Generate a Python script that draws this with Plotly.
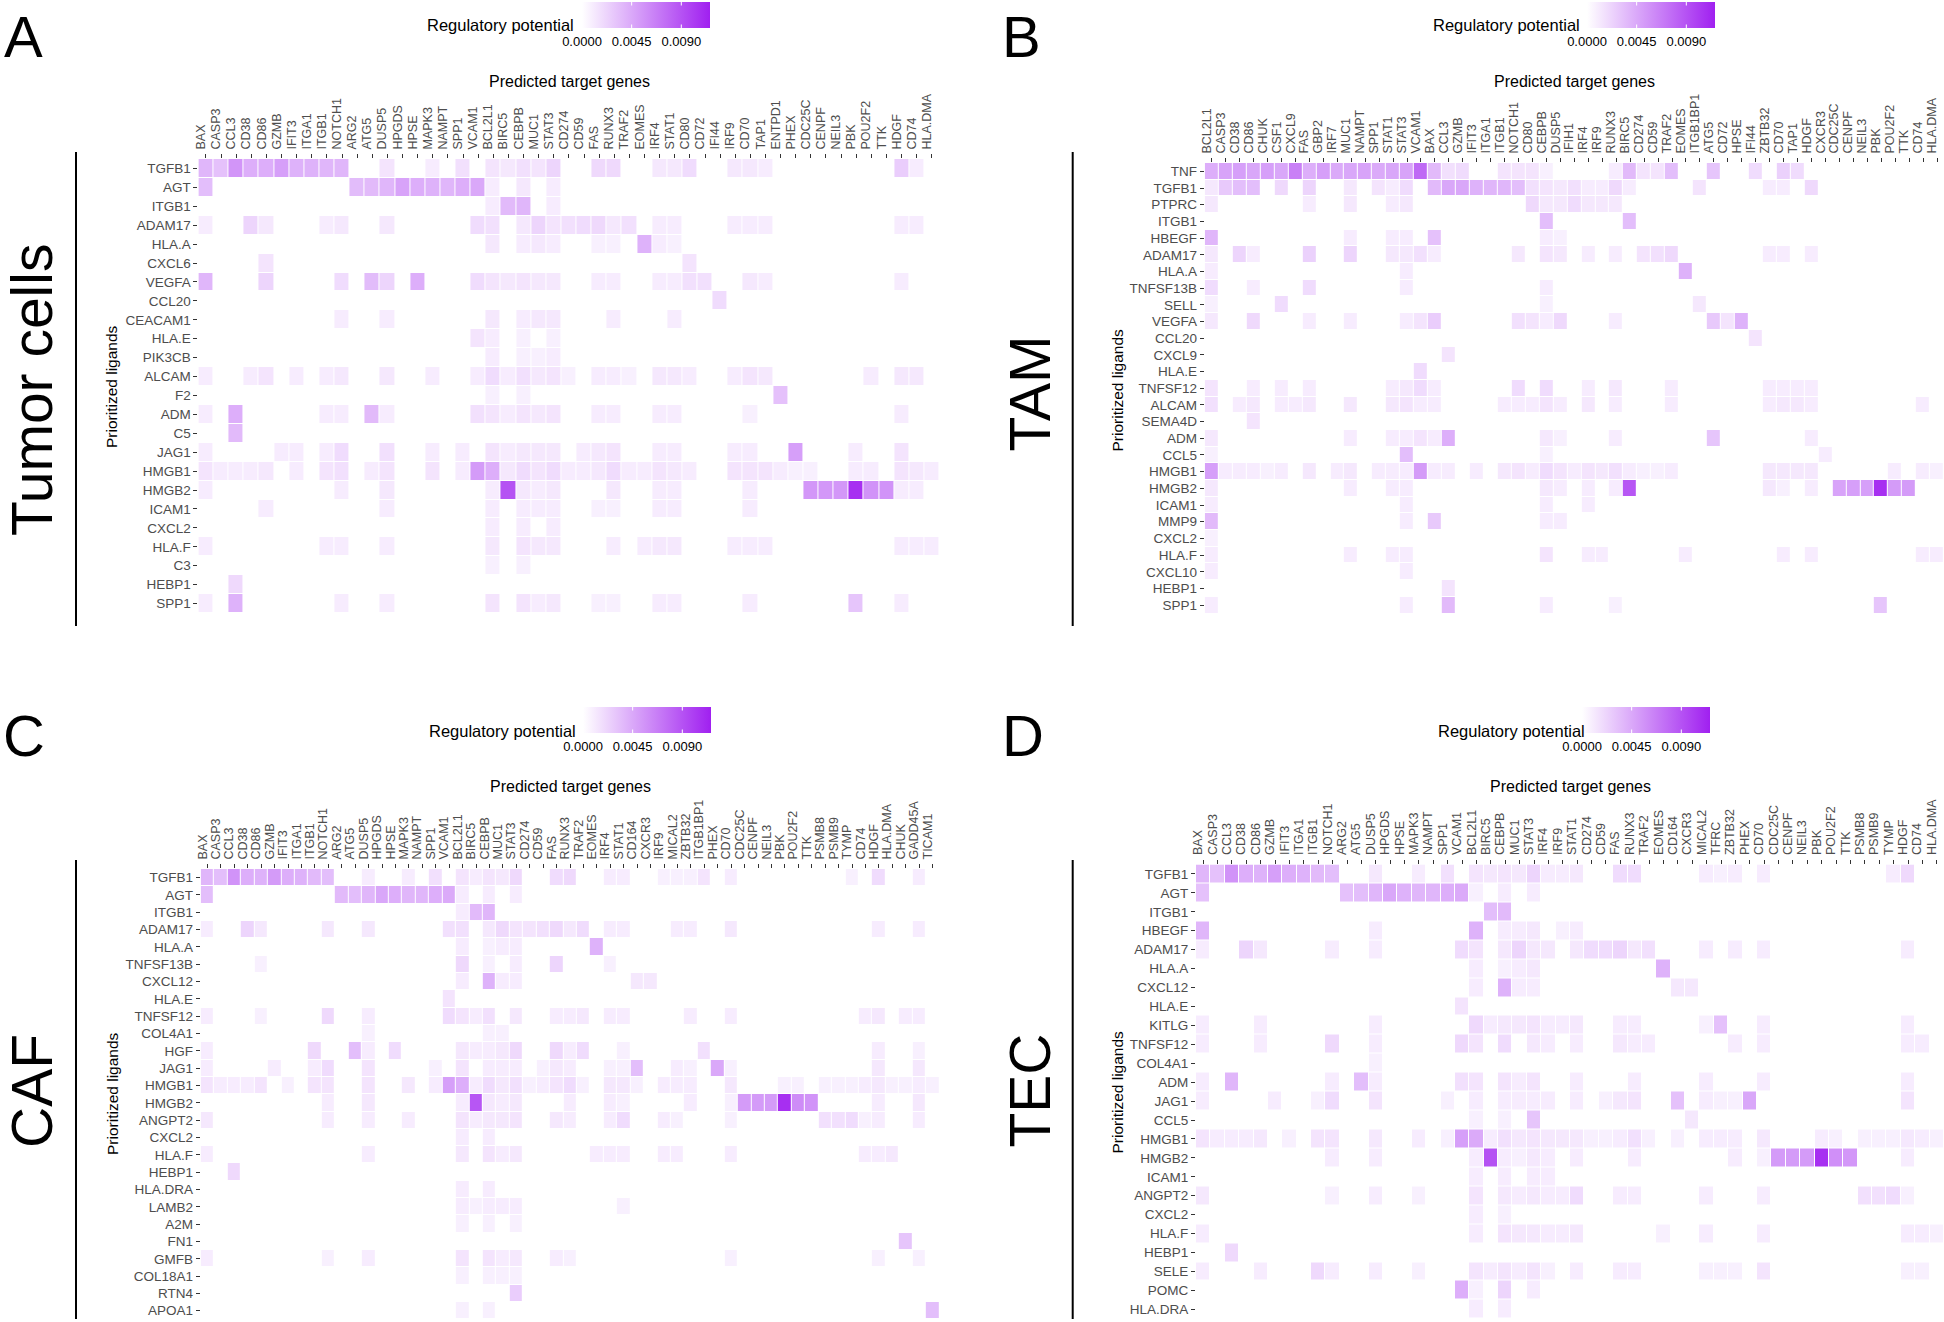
import plotly.graph_objects as go

W, H = 1944, 1322
ZMAX = 0.0116
UNIT = 1e-4  # cell values below are in units of 0.0001
CB_TICKS = [0, 0.0045, 0.009]
CB_LABELS = ["0.0000", "0.0045", "0.0090"]

A_genes = ["BAX","CASP3","CCL3","CD38","CD86","GZMB","IFIT3","ITGA1","ITGB1","NOTCH1","ARG2","ATG5","DUSP5","HPGDS","HPSE","MAPK3","NAMPT","SPP1","VCAM1","BCL2L1","BIRC5","CEBPB","MUC1","STAT3","CD274","CD59","FAS","RUNX3","TRAF2","EOMES","IRF4","STAT1","CD80","CD72","IFI44","IRF9","CD70","TAP1","ENTPD1","PHEX","CDC25C","CENPF","NEIL3","PBK","POU2F2","TTK","HDGF","CD74","HLA.DMA"]
A_rows = {
"TGFB1":{0:38,1:32,2:55,3:42,4:42,5:50,6:40,7:40,8:38,9:38,12:14,15:10,17:16,19:14,20:12,21:16,22:14,23:22,26:20,27:20,30:12,31:12,32:18,35:12,36:12,37:10,46:26,47:10},
"AGT":{0:34,10:35,11:36,12:38,13:48,14:42,15:40,16:38,17:42,18:45,19:10,21:12,23:10},
"ITGB1":{19:10,20:36,21:38,23:10},
"ADAM17":{0:10,3:22,4:12,8:10,9:12,12:12,18:18,19:16,21:12,22:22,23:14,24:16,25:18,26:20,27:12,28:16,30:10,31:10,35:10,36:10,37:10,46:10,47:10},
"HLA.A":{19:12,21:10,22:12,23:10,26:8,27:8,29:40,30:10,31:8},
"CXCL6":{4:14,32:14},
"VEGFA":{0:38,4:22,9:18,11:35,12:22,14:42,18:18,19:14,20:12,21:14,22:12,23:12,26:10,27:10,30:10,31:10,32:16,33:16,36:12,37:10,46:10},
"CCL20":{34:18},
"CEACAM1":{9:10,12:10,19:12,21:10,22:12,23:12,27:10,31:10},
"HLA.E":{18:14,19:10,21:8,23:8},
"PIK3CB":{19:10,21:8,22:8,23:10},
"ALCAM":{0:10,3:10,4:14,6:10,8:10,9:12,12:12,15:10,18:10,19:18,20:10,21:16,22:12,23:14,24:8,26:10,27:10,28:8,30:12,31:12,32:10,35:10,36:14,37:12,44:10,46:12,47:12},
"F2":{19:8,21:8,38:32},
"ADM":{0:10,2:42,8:10,9:10,11:36,12:10,18:16,19:14,20:10,21:14,22:12,23:14,26:10,27:10,30:10,31:10,36:8,46:10},
"C5":{2:36},
"JAG1":{0:10,5:10,6:10,8:10,9:18,12:16,15:10,17:10,19:14,20:10,21:12,22:12,23:12,25:10,26:12,27:14,30:10,31:10,35:10,36:10,39:50,43:10,46:14},
"HMGB1":{0:14,1:10,2:10,3:10,4:12,6:10,8:14,9:16,11:10,12:14,15:14,17:10,18:52,19:42,20:12,21:18,22:14,23:18,24:10,25:10,26:12,27:18,28:10,29:10,30:14,31:12,32:10,35:14,36:14,37:14,38:10,39:8,40:8,43:10,44:10,46:14,47:12,48:10},
"HMGB2":{0:10,9:10,12:12,19:10,20:90,21:12,22:10,23:12,27:12,30:10,31:10,36:10,40:54,41:54,42:54,43:108,44:56,45:56,46:10,47:10},
"ICAM1":{4:10,12:10,19:10,21:10,22:10,23:10,26:8,27:8,30:10,31:10,36:10},
"CXCL2":{19:10,21:10,23:10},
"HLA.F":{0:10,8:10,9:10,12:10,19:12,21:14,22:12,23:12,27:10,29:10,30:12,31:12,35:10,36:10,37:10,46:10,47:10,48:10},
"C3":{19:8,21:8},
"HEBP1":{2:20},
"SPP1":{0:10,2:40,9:10,12:10,19:14,21:14,22:10,23:12,26:8,27:8,30:10,31:10,36:10,43:30,46:10},
}

B_genes = ["BCL2L1","CASP3","CD38","CD86","CHUK","CSF1","CXCL9","FAS","GBP2","IRF7","MUC1","NAMPT","SPP1","STAT1","STAT3","VCAM1","BAX","CCL3","GZMB","IFIT3","ITGA1","ITGB1","NOTCH1","CD80","CEBPB","DUSP5","IFIH1","IRF4","IRF9","RUNX3","BIRC5","CD274","CD59","TRAF2","EOMES","ITGB1BP1","ATG5","CD72","HPSE","IFI44","ZBTB32","CD70","TAP1","HDGF","CXCR3","CDC25C","CENPF","NEIL3","PBK","POU2F2","TTK","CD74","HLA.DMA"]
B_rows = {
"TNF":{0:42,1:48,2:50,3:46,4:50,5:46,6:66,7:42,8:50,9:44,10:46,11:48,12:44,13:46,14:48,15:78,16:36,17:16,18:18,21:14,22:14,23:14,24:8,29:10,30:36,31:14,32:14,33:34,36:30,39:18,41:24,42:18},
"TGFB1":{0:12,1:28,2:34,3:34,5:20,7:22,10:12,12:14,13:10,14:18,16:36,17:46,18:46,19:40,20:38,21:38,22:34,23:16,24:14,25:12,26:16,27:10,28:10,29:20,30:10,35:14,40:10,41:10,43:20},
"PTPRC":{0:12,7:10,10:12,13:10,14:12,23:20,24:12,25:12,26:18,27:12,28:12,29:12},
"ITGB1":{24:34,30:34},
"HBEGF":{0:38,10:10,13:10,14:10,16:32,24:10,25:8},
"ADAM17":{0:12,2:22,3:10,7:24,10:22,13:12,14:12,15:16,16:10,22:12,24:14,25:12,27:10,29:10,31:14,32:16,33:20,40:10,41:10,43:10},
"HLA.A":{0:10,14:10,34:40},
"TNFSF13B":{0:18,3:10,7:18,14:10,24:10},
"SELL":{0:8,5:18,24:8,35:12},
"VEGFA":{0:12,3:20,7:10,10:10,14:10,15:14,16:26,22:16,23:14,24:10,25:20,29:10,36:28,37:14,38:40},
"CCL20":{39:14},
"CXCL9":{17:14},
"HLA.E":{15:18},
"TNFSF12":{0:14,3:10,5:10,7:10,13:10,14:12,15:18,16:10,22:18,24:18,27:10,29:12,33:10,40:10,41:10,42:10,43:10},
"ALCAM":{0:16,2:10,3:12,5:10,6:10,7:12,10:12,13:12,14:14,15:10,16:10,21:10,22:10,23:10,24:14,25:10,27:12,29:10,33:10,40:10,41:12,42:12,43:10,51:10},
"SEMA4D":{3:14},
"ADM":{0:12,10:10,13:10,14:10,15:14,16:10,17:42,24:12,25:8,29:10,36:30,43:10},
"CCL5":{0:8,14:34,24:8,44:10},
"HMGB1":{0:50,1:10,2:10,3:10,4:8,5:10,7:12,9:10,10:12,12:10,13:10,14:10,15:52,16:10,17:10,19:10,21:12,22:14,23:10,24:18,25:14,26:10,27:14,28:12,29:16,30:10,31:8,32:8,33:10,40:12,41:12,42:12,43:12,49:10,51:10,52:8},
"HMGB2":{0:12,10:10,13:10,14:10,24:12,25:10,27:10,29:10,30:88,40:12,41:8,43:10,45:48,46:50,47:50,48:108,49:52,50:52},
"ICAM1":{0:10,14:10,24:10,27:10},
"MMP9":{0:36,14:10,16:28,24:10,25:10},
"CXCL2":{0:8},
"HLA.F":{0:10,10:10,13:10,14:10,24:14,27:10,28:10,34:10,41:10,43:10,51:10,52:10},
"CXCL10":{0:10,14:10},
"HEBP1":{17:14},
"SPP1":{0:10,14:10,17:36,24:10,29:8,48:30},
}

C_genes = ["BAX","CASP3","CCL3","CD38","CD86","GZMB","IFIT3","ITGA1","ITGB1","NOTCH1","ARG2","ATG5","DUSP5","HPGDS","HPSE","MAPK3","NAMPT","SPP1","VCAM1","BCL2L1","BIRC5","CEBPB","MUC1","STAT3","CD274","CD59","FAS","RUNX3","TRAF2","EOMES","IRF4","STAT1","CD164","CXCR3","IRF9","MICAL2","ZBTB32","ITGB1BP1","PHEX","CD70","CDC25C","CENPF","NEIL3","PBK","POU2F2","TTK","PSMB8","PSMB9","TYMP","CD74","HDGF","HLA.DMA","CHUK","GADD45A","TICAM1"]
C_rows = {
"TGFB1":{0:38,1:34,2:56,3:42,4:40,5:52,6:42,7:40,8:36,9:34,12:10,15:10,17:16,19:14,20:10,21:14,22:12,23:20,26:18,27:20,30:10,31:10,34:8,35:8,36:8,37:14,39:10,48:8,50:18,53:10},
"AGT":{0:34,10:36,11:34,12:38,13:46,14:42,15:38,16:38,17:42,18:44,19:10,21:10,23:10},
"ITGB1":{19:10,20:36,21:38},
"ADAM17":{0:10,3:22,4:12,9:12,12:12,18:16,19:16,21:12,22:20,23:14,24:14,25:16,26:20,27:12,28:18,30:10,31:10,35:10,36:10,39:12,50:10,53:10},
"HLA.A":{19:10,21:8,22:10,23:10,29:40},
"TNFSF13B":{4:8,19:20,21:8,23:10,26:22,30:8},
"CXCL12":{19:10,21:40,22:10,23:10,32:12,33:12},
"HLA.E":{18:14},
"TNFSF12":{0:10,4:8,9:20,12:10,18:18,19:14,20:10,21:16,23:12,26:10,27:10,28:12,30:10,31:10,36:10,39:10,49:10,50:12,52:10,53:10},
"COL4A1":{12:8,21:8,22:8},
"HGF":{0:10,8:20,11:34,12:10,14:18,19:12,20:10,21:10,22:12,23:20,26:20,27:10,28:18,31:8,37:16,50:10,53:8},
"JAG1":{0:10,5:10,8:10,9:18,12:14,17:8,19:14,21:10,22:10,23:10,25:8,26:12,27:10,30:8,31:8,32:34,35:10,36:8,38:45,39:8,50:12,53:12},
"HMGB1":{0:14,1:10,2:10,3:10,4:14,6:8,8:14,9:14,12:14,15:12,17:10,18:50,19:42,20:10,21:18,22:12,23:16,24:8,25:10,26:14,27:18,28:8,30:12,31:12,32:8,34:10,35:10,36:10,39:12,43:8,44:8,46:8,47:8,48:8,49:10,50:12,51:8,52:8,53:10,54:8},
"HMGB2":{9:10,12:12,19:10,20:88,21:12,22:10,23:12,27:10,30:10,31:8,36:10,39:8,40:52,41:52,42:52,43:108,44:60,45:56,50:10,53:12},
"ANGPT2":{0:12,9:10,12:10,15:10,19:14,20:10,21:12,22:12,23:14,26:12,27:10,30:10,31:18,34:10,35:8,39:8,46:16,47:16,48:18,49:8,50:10,53:10},
"CXCL2":{19:10,21:10},
"HLA.F":{0:10,12:10,19:12,21:14,22:10,23:12,29:10,30:10,31:10,34:10,35:10,39:10,49:10,50:10,51:12},
"HEBP1":{2:20},
"HLA.DRA":{19:10,21:10},
"LAMB2":{19:10,20:8,21:10,22:10,23:10,31:8},
"A2M":{19:8,21:8,23:8},
"FN1":{52:30},
"GMFB":{0:10,9:8,12:10,19:14,21:14,22:10,23:12,26:10,27:8,39:8,50:8,53:8},
"COL18A1":{19:8,21:8,22:8,23:8},
"RTN4":{23:26},
"APOA1":{19:8,21:8,54:34},
}

D_genes = ["BAX","CASP3","CCL3","CD38","CD86","GZMB","IFIT3","ITGA1","ITGB1","NOTCH1","ARG2","ATG5","DUSP5","HPGDS","HPSE","MAPK3","NAMPT","SPP1","VCAM1","BCL2L1","BIRC5","CEBPB","MUC1","STAT3","IRF4","IRF9","STAT1","CD274","CD59","FAS","RUNX3","TRAF2","EOMES","CD164","CXCR3","MICAL2","TFRC","ZBTB32","PHEX","CD70","CDC25C","CENPF","NEIL3","PBK","POU2F2","TTK","PSMB8","PSMB9","TYMP","HDGF","CD74","HLA.DMA"]
D_rows = {
"TGFB1":{0:38,1:32,2:56,3:42,4:40,5:50,6:42,7:40,8:36,9:34,12:12,15:10,17:16,19:14,20:12,21:14,22:12,23:22,24:10,25:10,26:12,29:18,30:18,35:10,36:8,37:10,39:10,48:10,49:20},
"AGT":{0:32,10:32,11:34,12:38,13:46,14:40,15:38,16:38,17:42,18:44,19:8,21:10,23:10},
"ITGB1":{20:34,21:36},
"HBEGF":{0:38,12:10,19:40,21:10,22:10,23:12,25:8,26:10},
"ADAM17":{0:10,3:22,4:12,9:10,12:10,18:18,19:14,21:12,22:22,23:12,24:12,26:12,27:18,28:18,29:22,30:12,31:16,35:10,37:10,39:10,49:10},
"HLA.A":{19:10,21:8,22:10,23:12,32:40},
"CXCL12":{19:10,21:40,22:10,23:10,33:12,34:12},
"HLA.E":{18:14},
"KITLG":{0:10,4:10,12:10,19:20,20:10,21:12,22:12,23:14,24:10,25:10,26:12,29:10,30:10,35:8,36:32,39:10,49:10},
"TNFSF12":{0:10,4:10,9:20,12:10,18:20,19:14,21:18,23:12,24:10,26:10,29:12,30:10,31:10,37:10,39:10,49:10,50:10},
"COL4A1":{12:8},
"ADM":{0:10,2:38,9:10,11:34,12:10,18:16,19:14,21:14,22:10,23:14,26:10,30:10,35:10,39:10,49:10},
"JAG1":{0:10,5:10,8:8,9:18,12:14,17:8,19:10,21:10,22:10,23:10,24:10,26:10,28:8,29:12,30:14,33:32,35:10,36:8,37:8,38:46,49:14},
"CCL5":{19:8,21:8,23:30,34:12},
"HMGB1":{0:14,1:10,2:10,3:10,4:12,6:8,8:14,9:14,12:12,15:10,17:8,18:50,19:44,20:10,21:16,22:12,23:14,24:12,25:12,26:12,27:8,28:8,29:10,30:16,31:8,33:8,35:10,36:10,37:10,39:12,43:10,44:8,46:8,47:8,48:8,49:12,50:10,51:8},
"HMGB2":{9:10,12:10,19:10,20:90,21:10,22:8,23:12,24:10,26:10,30:10,37:10,39:8,40:52,41:52,42:52,43:108,44:58,45:54,49:10},
"ICAM1":{19:10,21:10,23:10,24:10},
"ANGPT2":{0:12,9:8,12:10,15:8,19:14,21:12,22:10,23:12,24:10,25:10,26:18,29:10,30:10,35:10,39:10,46:16,47:16,48:18,49:8},
"CXCL2":{19:10,21:8},
"HLA.F":{0:10,19:10,21:14,22:12,23:12,24:10,25:10,26:12,32:8,35:10,39:10,49:10,50:10,51:8},
"HEBP1":{2:20},
"SELE":{0:10,4:10,8:20,9:10,12:10,15:8,19:14,20:10,21:14,22:10,23:14,24:8,26:10,29:10,30:10,35:8,36:8,37:8,39:14,49:8,50:8},
"POMC":{18:42,19:8,21:22,23:10},
"HLA.DRA":{19:10,21:10},
}

FONT = "Liberation Sans"
PANELS = [
 dict(key="A", side="Tumor cells", genes=A_genes, rows=A_rows, box=(198.4, 939.4, 159.0, 613.0), letter=(23, 36), side_xy=(32, 390),
      line=(76, 152, 626), title=(569, 81), cbar=(582, 2, 710), cblabel=(501, 25), ylab=(112, 387)),
 dict(key="B", side="TAM", genes=B_genes, rows=B_rows, box=(1204.8, 1944.0, 163.0, 613.5), letter=(1021.6, 36), side_xy=(1029.5, 394),
      line=(1072.7, 152, 626), title=(1574, 81), cbar=(1587, 2, 1715), cblabel=(1506, 25), ylab=(1116.5, 390)),
 dict(key="C", side="CAF", genes=C_genes, rows=C_rows, box=(200.8, 939.4, 869.0, 1319.4), letter=(24, 735.7), side_xy=(32, 1091),
      line=(76, 860, 1319), title=(570, 786.7), cbar=(583, 707, 711), cblabel=(502, 730.7), ylab=(112, 1094)),
 dict(key="D", side="TEC", genes=D_genes, rows=D_rows, box=(1196.0, 1944.0, 864.5, 1318.8), letter=(1023, 735.7), side_xy=(1029.5, 1091),
      line=(1072.7, 860, 1319), title=(1570, 786.7), cbar=(1582, 707, 1710), cblabel=(1511, 730.7), ylab=(1116.5, 1092)),
]

def px(x): return x / W
def py(y): return 1 - y / H

fig = go.Figure()
layout = dict(width=W, height=H, margin=dict(l=0, r=0, t=0, b=0, autoexpand=False), autosize=False,
              paper_bgcolor="white", plot_bgcolor="white", showlegend=False,
              font=dict(family=FONT), annotations=[], shapes=[])
CB_THICK = 26
CB_TICK = 5

for idx, p in enumerate(PANELS):
    n = "" if idx == 0 else str(idx + 1)
    genes, rows = p["genes"], p["rows"]
    ligands = list(rows)
    z = [[rows[l].get(i, 0) * UNIT for i in range(len(genes))] for l in ligands]
    x0, x1, y0, y1 = p["box"]
    cx, cy, cx1 = p["cbar"]
    fig.add_trace(go.Heatmap(
        z=z, x=genes, y=ligands, xaxis="x" + n, yaxis="y" + n, xgap=1, ygap=1,
        zmin=0, zmax=ZMAX, colorscale=[[0, "#FFFFFF"], [1, "#A020F0"]],
        hovertemplate="%{y} → %{x}: %{z:.4f}<extra></extra>",
        colorbar=dict(orientation="h", x=px(cx), y=py(cy), xanchor="left", yanchor="top",
                      len=cx1 - cx, lenmode="pixels", thickness=CB_THICK, thicknessmode="pixels",
                      xpad=0, ypad=0, outlinewidth=0, ticks="outside", ticklen=3, tickwidth=1,
                      tickcolor="white", tickvals=CB_TICKS, ticktext=CB_LABELS,
                      tickfont=dict(family=FONT, size=13, color="black"))))
    layout["xaxis" + n] = dict(domain=[px(x0), px(x1)], anchor="y" + n, side="top", type="category",
                               range=[-0.5, len(genes) - 0.5], tickmode="array", tickvals=genes, ticktext=genes,
                               tickangle=-90, ticks="outside", ticklen=4, tickwidth=1, tickcolor="#333333",
                               ticklabelshift=-5, ticklabelstandoff=2,
                               tickfont=dict(family=FONT, size=12.5, color="#4d4d4d"), showgrid=False, zeroline=False,
                               showline=False)
    layout["yaxis" + n] = dict(domain=[py(y1), py(y0)], anchor="x" + n, type="category",
                               range=[len(ligands) - 0.5, -0.5], tickmode="array", tickvals=ligands, ticktext=ligands,
                               ticks="outside", ticklen=4, tickwidth=1, tickcolor="#333333",
                               tickfont=dict(family=FONT, size=13.5, color="#4d4d4d"), showgrid=False, zeroline=False,
                               showline=False)
    lx, ly0, ly1 = p["line"]
    layout["shapes"].append(dict(type="line", xref="paper", yref="paper", x0=px(lx), x1=px(lx), y0=py(ly0), y1=py(ly1),
                                 line=dict(color="black", width=2)))
    def note(text, xy, size, angle=0, color="black"):
        layout["annotations"].append(dict(text=text, xref="paper", yref="paper", x=px(xy[0]), y=py(xy[1]),
                                          xanchor="center", yanchor="middle", showarrow=False, textangle=angle,
                                          font=dict(family=FONT, size=size, color=color)))
    note(p["key"], p["letter"], 58)
    note(p["side"], p["side_xy"], 57, angle=-90)
    note("Predicted target genes", p["title"], 16)
    note("Regulatory potential", p["cblabel"], 16.5)
    note("Prioritized ligands", p["ylab"], 15.5, angle=-90)
    # white colourbar ticks, top and bottom edge, as ggplot draws them
    for v in CB_TICKS[1:]:
        tx = cx + v / ZMAX * (cx1 - cx)
        for tip_y, tail in ((cy, CB_TICK), (cy + CB_THICK, -CB_TICK)):
            layout["annotations"].append(dict(text="", xref="paper", yref="paper", x=px(tx), y=py(tip_y),
                                              ax=0, ay=tail, axref="pixel", ayref="pixel", showarrow=True,
                                              arrowhead=0, arrowwidth=1, arrowcolor="white", standoff=0))

fig.update_layout(**layout)
fig.write_html("out.html", config=dict(displayModeBar=False),
               post_script="document.body.style.margin='0';document.documentElement.style.overflow='hidden';")
